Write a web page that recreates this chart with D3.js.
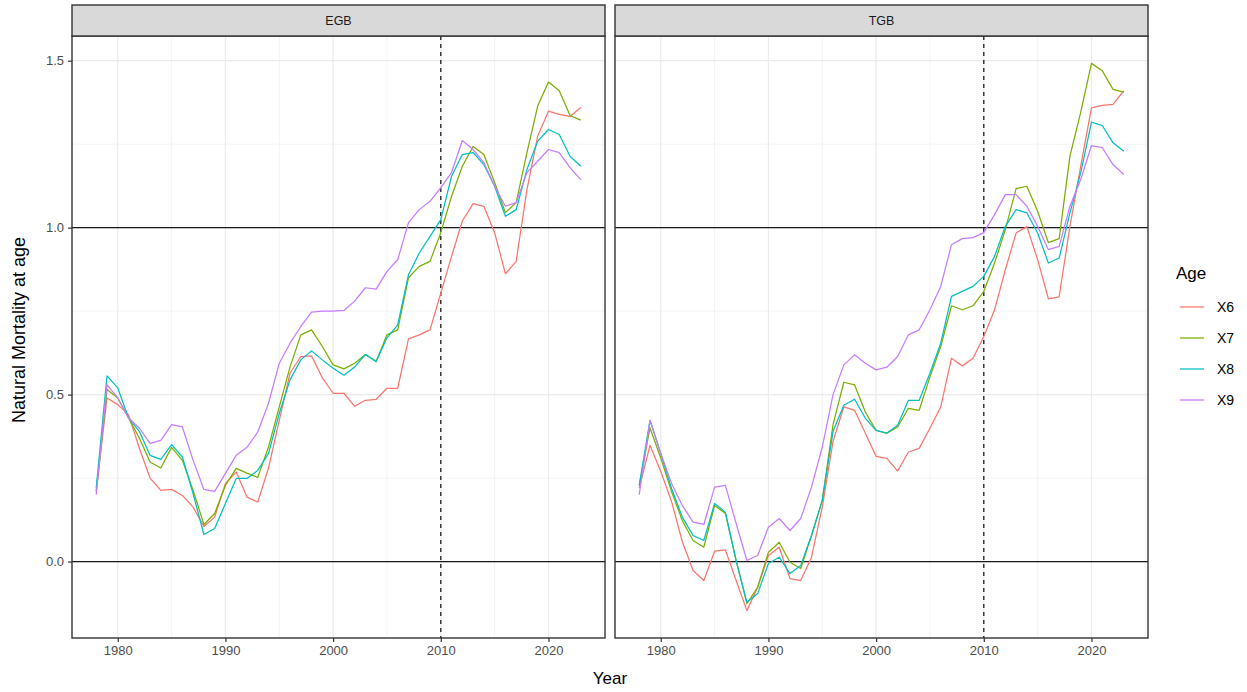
<!DOCTYPE html>
<html><head><meta charset="utf-8">
<script src="https://cdn.jsdelivr.net/npm/d3@7"></script>
<style>body{margin:0;background:#fff;} svg{display:block;font-family:"Liberation Sans",Arial,sans-serif;}</style>
</head><body><svg id="c" width="1247" height="692"></svg>
<script>
const years = [1978,1979,1980,1981,1982,1983,1984,1985,1986,1987,1988,1989,1990,1991,1992,1993,1994,1995,1996,1997,1998,1999,2000,2001,2002,2003,2004,2005,2006,2007,2008,2009,2010,2011,2012,2013,2014,2015,2016,2017,2018,2019,2020,2021,2022,2023];
const panels = ["EGB", "TGB"];
const ages = ["X6", "X7", "X8", "X9"];
const xTicks = [1980, 1990, 2000, 2010, 2020];
const yTicks = [0.0, 0.5, 1.0, 1.5];
const refYear = 2010;
const refLevels = [0, 1];

const egbX6 = [0.21,0.49,0.47,0.44,0.34,0.25,0.213,0.216,0.198,0.163,0.105,0.133,0.234,0.268,0.193,0.178,0.28,0.423,0.564,0.614,0.616,0.55,0.504,0.504,0.465,0.483,0.486,0.519,0.519,0.667,0.679,0.694,0.804,0.914,1.02,1.072,1.064,0.985,0.862,0.899,1.114,1.274,1.349,1.339,1.333,1.36];
const egbX7 = [0.21,0.515,0.49,0.43,0.37,0.298,0.28,0.342,0.303,0.213,0.111,0.144,0.228,0.279,0.265,0.252,0.343,0.463,0.583,0.679,0.694,0.644,0.589,0.577,0.594,0.62,0.599,0.679,0.694,0.85,0.884,0.899,0.985,1.094,1.184,1.243,1.219,1.135,1.045,1.075,1.225,1.364,1.436,1.41,1.336,1.322];
const egbX8 = [0.22,0.556,0.52,0.43,0.39,0.318,0.306,0.35,0.313,0.203,0.081,0.099,0.174,0.249,0.249,0.273,0.324,0.444,0.544,0.604,0.631,0.604,0.579,0.558,0.583,0.62,0.599,0.67,0.709,0.859,0.924,0.974,1.024,1.154,1.219,1.225,1.189,1.124,1.034,1.054,1.174,1.259,1.294,1.279,1.214,1.184];
const egbX9 = [0.20,0.53,0.49,0.43,0.40,0.354,0.363,0.41,0.403,0.303,0.216,0.21,0.264,0.318,0.342,0.388,0.474,0.594,0.654,0.704,0.747,0.75,0.75,0.752,0.78,0.82,0.816,0.869,0.904,1.015,1.054,1.079,1.12,1.165,1.261,1.234,1.195,1.124,1.064,1.075,1.165,1.199,1.234,1.225,1.18,1.144];

const tgbX6 = [0.22,0.348,0.27,0.18,0.06,-0.027,-0.057,0.031,0.035,-0.057,-0.147,-0.077,0.018,0.043,-0.051,-0.057,0.013,0.163,0.36,0.463,0.453,0.384,0.315,0.309,0.271,0.328,0.339,0.399,0.463,0.609,0.586,0.609,0.674,0.754,0.874,0.984,1.003,0.904,0.787,0.793,1.004,1.184,1.359,1.366,1.369,1.41];
const tgbX7 = [0.228,0.40,0.31,0.21,0.123,0.063,0.043,0.168,0.144,0.003,-0.126,-0.077,0.028,0.058,-0.002,-0.021,0.078,0.183,0.41,0.537,0.529,0.448,0.393,0.384,0.403,0.459,0.453,0.553,0.644,0.766,0.754,0.766,0.809,0.894,0.994,1.117,1.124,1.049,0.955,0.967,1.214,1.345,1.492,1.47,1.414,1.406];
const tgbX8 = [0.228,0.423,0.324,0.219,0.133,0.078,0.063,0.174,0.148,0.003,-0.122,-0.096,-0.006,0.013,-0.036,-0.012,0.078,0.183,0.39,0.468,0.486,0.429,0.393,0.385,0.408,0.483,0.483,0.564,0.654,0.794,0.809,0.824,0.854,0.914,1.004,1.054,1.044,0.984,0.894,0.909,1.044,1.164,1.316,1.306,1.254,1.229];
const tgbX9 = [0.20,0.423,0.324,0.234,0.168,0.118,0.111,0.223,0.228,0.114,0.003,0.018,0.103,0.129,0.093,0.129,0.223,0.343,0.50,0.589,0.619,0.594,0.574,0.582,0.614,0.679,0.694,0.754,0.824,0.949,0.967,0.97,0.985,1.039,1.099,1.099,1.064,1.004,0.934,0.944,1.064,1.144,1.246,1.24,1.189,1.159];

const seriesData = {
  EGB: [egbX6, egbX7, egbX8, egbX9],
  TGB: [tgbX6, tgbX7, tgbX8, tgbX9]
};
const colors = ["#F8766D", "#7CAE00", "#00BFC4", "#C77CFF"];

const svg = d3.select("#c");
const plotTop = 36, plotBottom = 638, stripTop = 5;
const panelX = [[72, 605], [615, 1148]];

const y = d3.scaleLinear().domain([-0.229, 1.574]).range([plotBottom, plotTop]);
const color = d3.scaleOrdinal().domain(ages).range(colors);

panels.forEach((p, pi) => {
  const [x0, x1] = panelX[pi];
  const x = d3.scaleLinear().domain([1975.75, 2025.25]).range([x0, x1]);
  const g = svg.append("g");
  g.append("rect").attr("x", x0).attr("y", plotTop).attr("width", x1 - x0).attr("height", plotBottom - plotTop).attr("fill", "#fff");
  // minor grid
  [1985, 1995, 2005, 2015, 2025].forEach(v => g.append("line").attr("x1", x(v)).attr("x2", x(v)).attr("y1", plotTop).attr("y2", plotBottom).attr("stroke", "#F2F2F2").attr("stroke-width", 0.9));
  [0.25, 0.75, 1.25].forEach(v => g.append("line").attr("x1", x0).attr("x2", x1).attr("y1", y(v)).attr("y2", y(v)).attr("stroke", "#F2F2F2").attr("stroke-width", 0.9));
  // major grid
  xTicks.forEach(v => g.append("line").attr("x1", x(v)).attr("x2", x(v)).attr("y1", plotTop).attr("y2", plotBottom).attr("stroke", "#EBEBEB").attr("stroke-width", 1.2));
  yTicks.forEach(v => g.append("line").attr("x1", x0).attr("x2", x1).attr("y1", y(v)).attr("y2", y(v)).attr("stroke", "#EBEBEB").attr("stroke-width", 1.2));
  // reference lines
  refLevels.forEach(v => g.append("line").attr("x1", x0).attr("x2", x1).attr("y1", y(v)).attr("y2", y(v)).attr("stroke", "#1a1a1a").attr("stroke-width", 1.3));
  g.append("line").attr("x1", x(refYear)).attr("x2", x(refYear)).attr("y1", plotTop).attr("y2", plotBottom).attr("stroke", "#1a1a1a").attr("stroke-width", 1.3).attr("stroke-dasharray", "4,4");
  // series
  const line = d3.line().x((d, i) => x(years[i])).y(d => y(d));
  seriesData[p].forEach((vals, si) => {
    g.append("path").datum(vals).attr("d", line).attr("fill", "none").attr("stroke", color(ages[si])).attr("stroke-width", 1.25).attr("stroke-linejoin", "round");
  });
  // border
  g.append("rect").attr("x", x0).attr("y", plotTop).attr("width", x1 - x0).attr("height", plotBottom - plotTop).attr("fill", "none").attr("stroke", "#333").attr("stroke-width", 1.4);
  // strip
  g.append("rect").attr("x", x0).attr("y", stripTop).attr("width", x1 - x0).attr("height", plotTop - stripTop).attr("fill", "#D9D9D9").attr("stroke", "#333").attr("stroke-width", 1.4);
  g.append("text").attr("x", (x0 + x1) / 2).attr("y", (stripTop + plotTop) / 2).attr("dy", "0.35em").attr("text-anchor", "middle").attr("font-size", 12.5).attr("fill", "#1A1A1A").text(p);
  // x axis
  const ax = g.append("g").attr("transform", `translate(0,${plotBottom})`).call(d3.axisBottom(x).tickValues(xTicks).tickFormat(d3.format("d")).tickSize(4).tickPadding(4));
  ax.select(".domain").remove();
  ax.selectAll(".tick line").attr("stroke", "#333").attr("stroke-width", 1.2);
  ax.selectAll(".tick text").attr("fill", "#4D4D4D").attr("font-size", 13).attr("font-family", "Liberation Sans, Arial, sans-serif");
  if (pi === 0) {
    const ay = g.append("g").attr("transform", `translate(${x0},0)`).call(d3.axisLeft(y).tickValues(yTicks).tickFormat(d3.format(".1f")).tickSize(4).tickPadding(4));
    ay.select(".domain").remove();
    ay.selectAll(".tick line").attr("stroke", "#333").attr("stroke-width", 1.2);
    ay.selectAll(".tick text").attr("fill", "#4D4D4D").attr("font-size", 13).attr("font-family", "Liberation Sans, Arial, sans-serif");
  }
});

// axis titles
svg.append("text").attr("x", 610).attr("y", 684).attr("text-anchor", "middle").attr("font-size", 17).attr("fill", "#000").text("Year");
svg.append("text").attr("transform", "translate(25,330) rotate(-90)").attr("text-anchor", "middle").attr("font-size", 18).attr("fill", "#000").text("Natural Mortality at age");

// legend
const lg = svg.append("g");
lg.append("text").attr("x", 1176).attr("y", 279).attr("font-size", 17).attr("fill", "#000").text("Age");
ages.forEach((a, i) => {
  const yy = 307 + i * 31;
  lg.append("line").attr("x1", 1180).attr("x2", 1204).attr("y1", yy).attr("y2", yy).attr("stroke", color(a)).attr("stroke-width", 1.25);
  lg.append("text").attr("x", 1217).attr("y", yy).attr("dy", "0.36em").attr("font-size", 14).attr("fill", "#000").text(a);
});
</script>
</body></html>
